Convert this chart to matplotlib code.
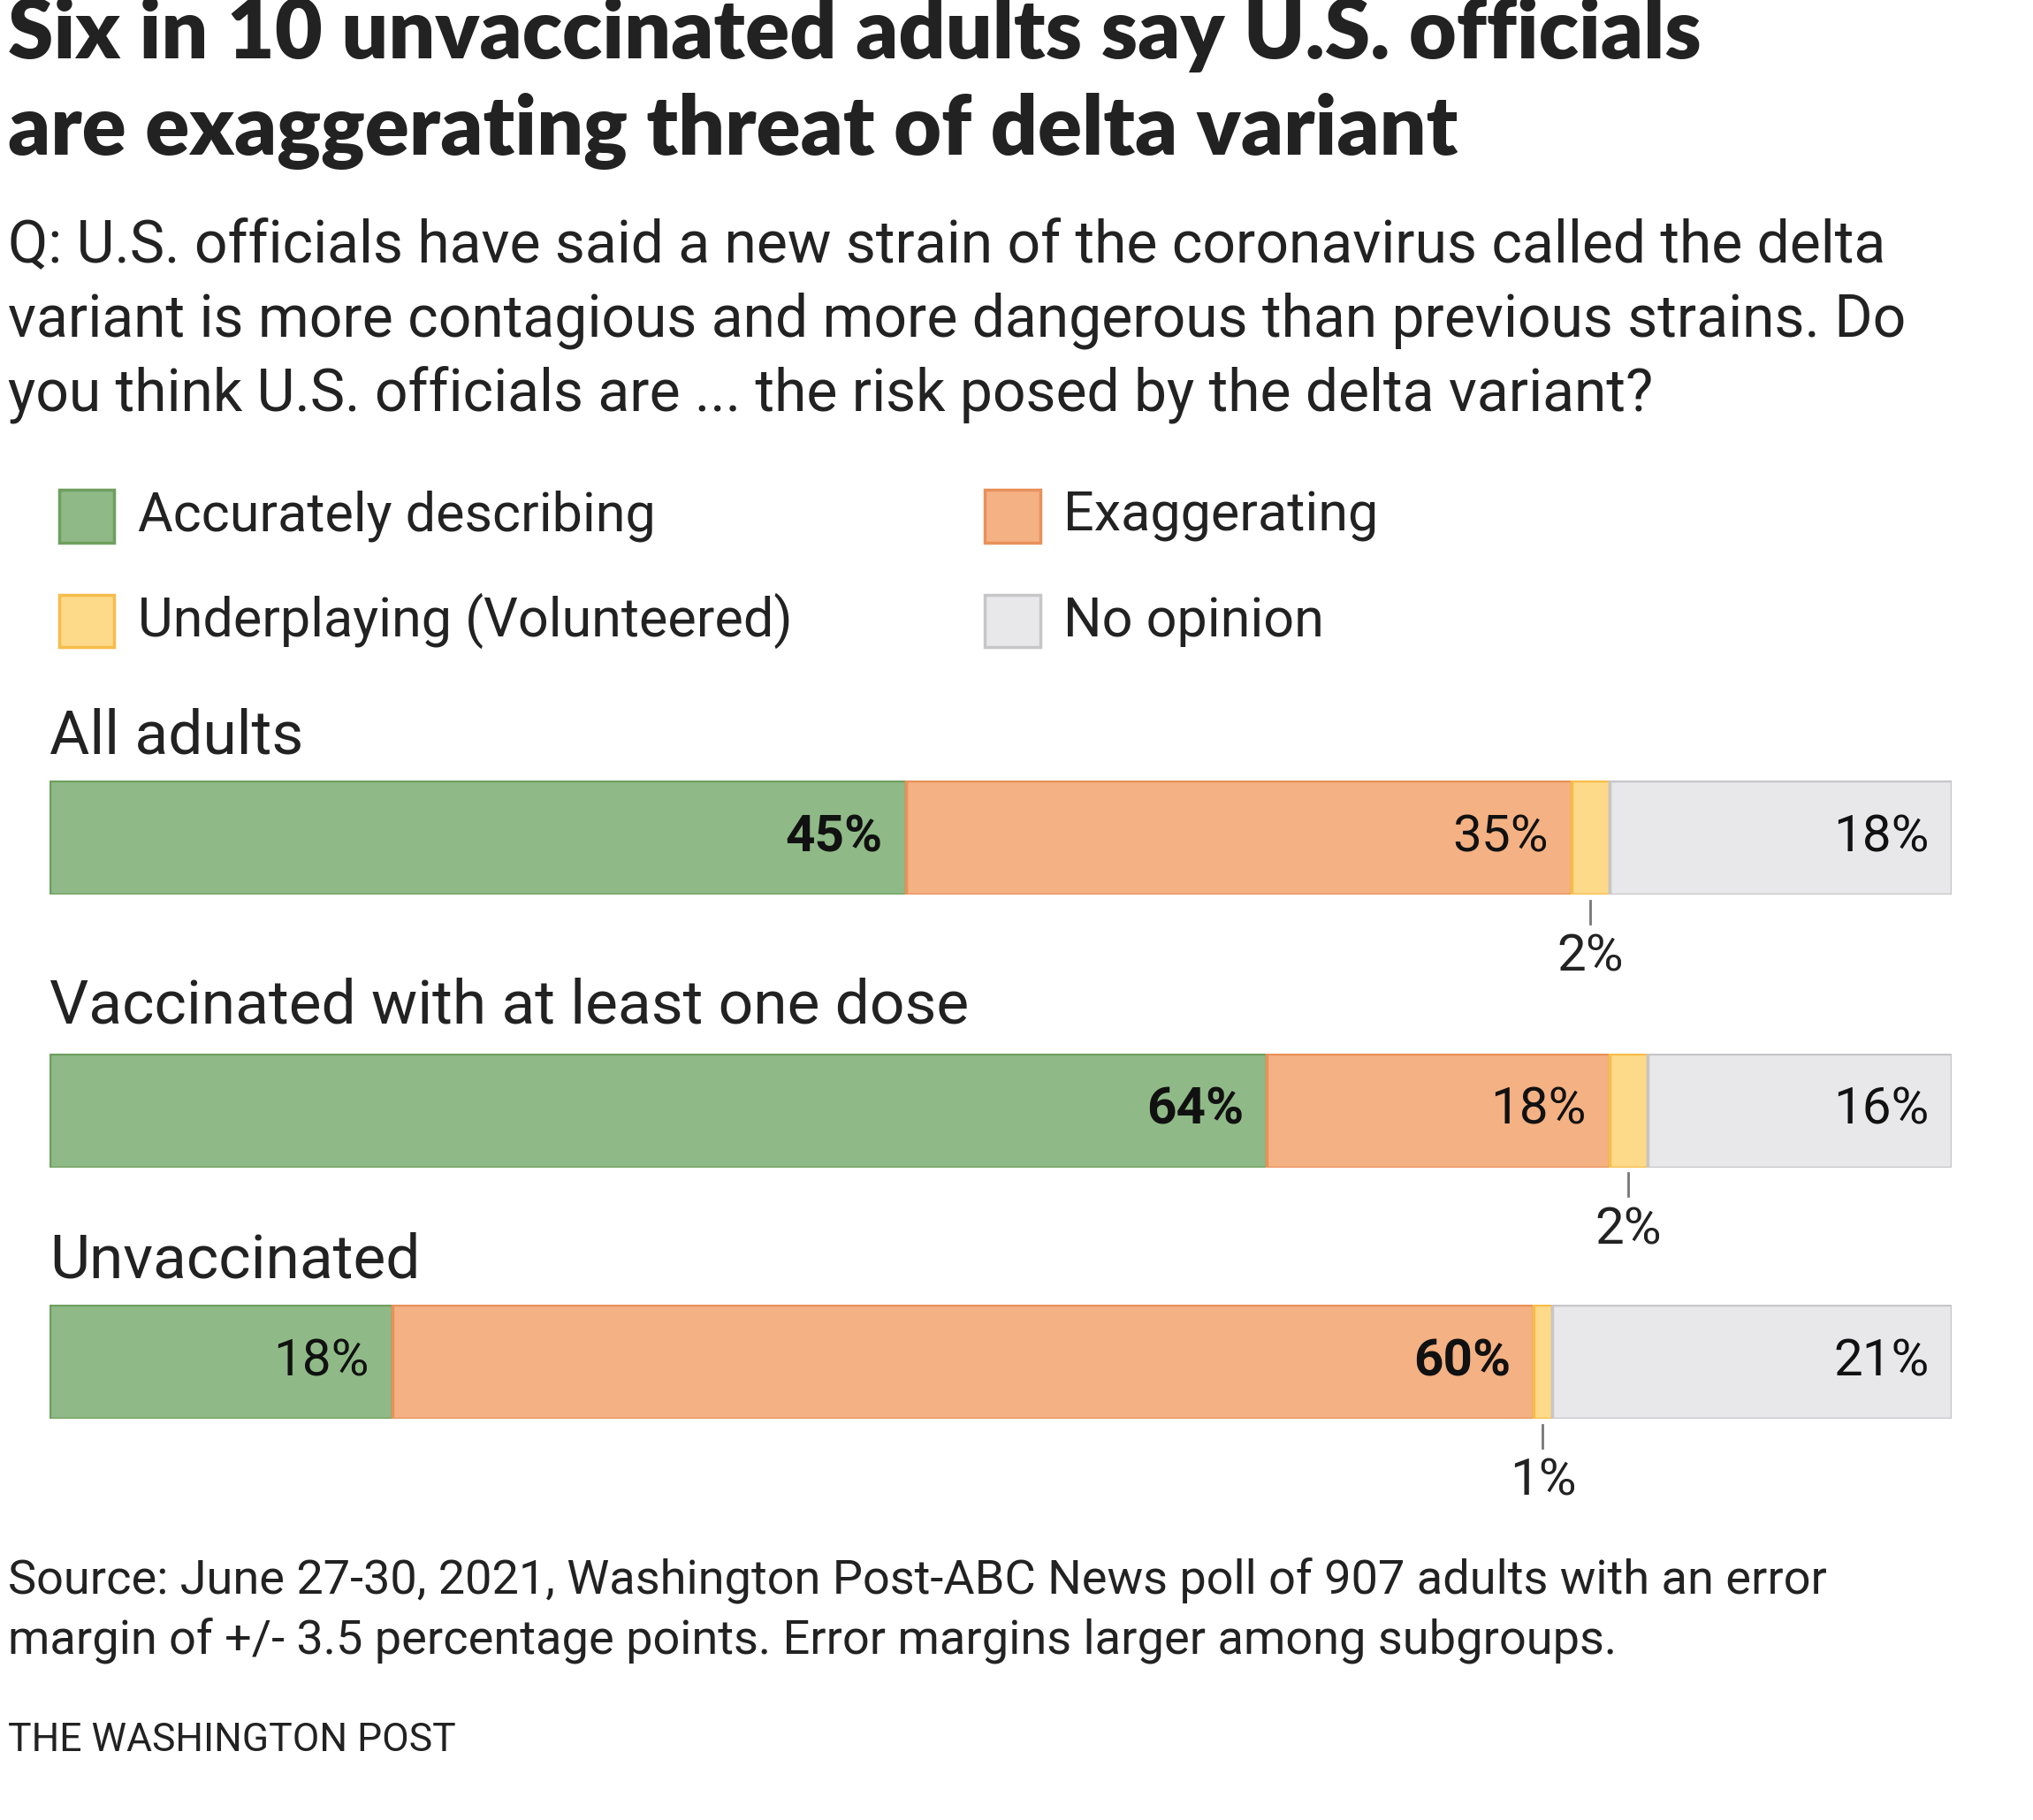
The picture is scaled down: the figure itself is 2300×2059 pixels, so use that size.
import matplotlib
matplotlib.use("Agg")
import matplotlib.pyplot as plt

groups = ["All adults", "Vaccinated with at least one dose", "Unvaccinated"]
categories = ["Accurately describing", "Exaggerating", "Underplaying (Volunteered)", "No opinion"]
values = [[45, 35, 2, 18], [64, 18, 2, 16], [18, 60, 1, 21]]
bold_idx = [0, 0, 1]

fills = ["#8fba87", "#f4b183", "#fdd98a", "#e8e8ea"]
edges = ["#6f9f5f", "#e8915a", "#f5bd4a", "#c6c6c8"]

W, H = 1552, 1389
fig = plt.figure(figsize=(23, 20.59), dpi=100)
def fy(y): return 1 - y / H
def fx(x): return x / W
body = ["Roboto", "DejaVu Sans"]

fig.text(fx(6), fy(26), "Six in 10 unvaccinated adults say U.S. officials", fontsize=67,
         fontweight="heavy", family=["Lato", "DejaVu Sans"], va="center", color="#222")
fig.text(fx(6), fy(100), "are exaggerating threat of delta variant", fontsize=67,
         fontweight="heavy", family=["Lato", "DejaVu Sans"], va="center", color="#222")
for i, line in enumerate(["Q: U.S. officials have said a new strain of the coronavirus called the delta",
                          "variant is more contagious and more dangerous than previous strains. Do",
                          "you think U.S. officials are ... the risk posed by the delta variant?"]):
    fig.text(fx(6), fy(188 + i * 57), line, fontsize=47.5, family=body, va="center", color="#222")

leg = [(45, 394), (752, 394), (45, 474), (752, 474)]
for (x, y), c, f, e in zip(leg, categories, fills, edges):
    fig.patches.append(plt.Rectangle((fx(x), fy(y + 20)), 42 / W, 40 / H, transform=fig.transFigure,
                                     facecolor=f, edgecolor=e, lw=2.5))
    fig.text(fx(x + 60), fy(y), c, fontsize=44, family=body, va="center", color="#222")

bar_tops = [596, 804, 996]
bh = 87
label_ys = [562, 768, 962]
for g, vals, top, ly, bi in zip(groups, values, bar_tops, label_ys, bold_idx):
    fig.text(fx(38), fy(ly), g, fontsize=50, family=body, va="center", color="#222")
    ax = fig.add_axes([fx(38), fy(top + bh), (1490 - 38) / W, bh / H])
    left = 0
    for j, v in enumerate(vals):
        ax.barh(0, v, left=left, height=1, color=fills[j], edgecolor=edges[j], lw=2.5, align="edge")
        if j == 2:
            mid = left + v / 2
            ax.plot([mid, mid], [-0.05, -0.25], color="#777", lw=2, clip_on=False)
            ax.text(mid, -0.55, f"{v}%", ha="left" if False else "center", va="center", fontsize=42,
                    family=body, color="#222")
        else:
            ax.text(left + v - 1.2, 0.5, f"{v}%", ha="right", va="center", fontsize=42, family=body,
                    fontweight="bold" if j == bi else "normal", color="#111")
        left += v
    ax.set_xlim(0, 100)
    ax.set_ylim(0, 1)
    ax.axis("off")

fig.text(fx(6), fy(1206), "Source: June 27-30, 2021, Washington Post-ABC News poll of 907 adults with an error",
         fontsize=39, family=body, va="center", color="#222")
fig.text(fx(6), fy(1252), "margin of +/- 3.5 percentage points. Error margins larger among subgroups.",
         fontsize=39, family=body, va="center", color="#222")
fig.text(fx(6), fy(1328), "THE WASHINGTON POST", fontsize=32, family=body, va="center", color="#222")

fig.savefig("out.png", dpi=100, facecolor="white")
